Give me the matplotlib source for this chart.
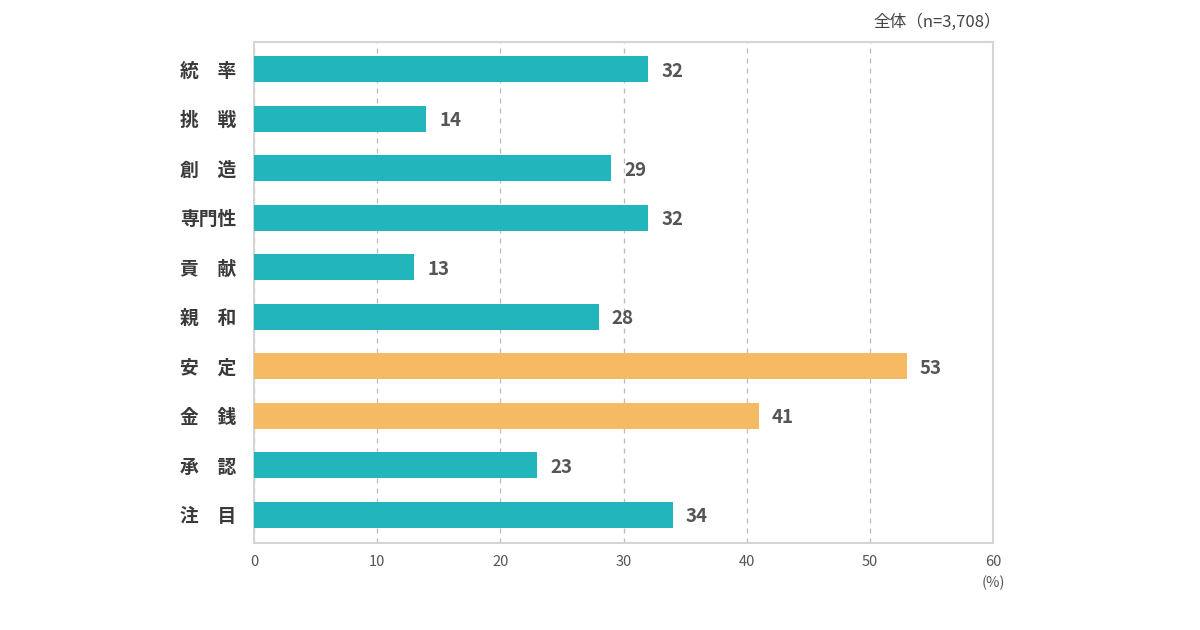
import matplotlib
matplotlib.use("Agg")
import matplotlib.pyplot as plt

plt.rcParams['font.family'] = ['Noto Sans CJK JP', 'DejaVu Sans']

categories = ["統　率", "挑　戦", "創　造", "専門性", "貢　献", "親　和", "安　定", "金　銭", "承　認", "注　目"]
values = [32, 14, 29, 32, 13, 28, 53, 41, 23, 34]
highlight = [False, False, False, False, False, False, True, True, False, False]
xticks = [0, 10, 20, 30, 40, 50, 60]

teal = "#22B5BC"
orange = "#F5BA62"

fig = plt.figure(figsize=(12, 6.3), dpi=100)
ax = fig.add_axes([254/1200, 1 - 543/630, (993-254)/1200, (543-42)/630])

ypos = list(range(len(categories)))
colors = [orange if h else teal for h in highlight]
ax.barh(ypos, values, height=0.53, color=colors, zorder=3)

for y, v in zip(ypos, values):
    ax.text(v + 1.05, y + 0.04, str(v), va="center", ha="left",
            fontsize=13.5, fontweight="bold", color="#555555")

ax.set_xlim(0, 60)
ax.set_ylim(len(categories) - 0.43, -0.55)
ax.set_yticks(ypos)
ax.set_yticklabels(categories, fontsize=13.5, fontweight="bold", color="#3a3a3a")
ax.set_xticks(xticks)
ax.set_xticklabels([str(t) for t in xticks], fontsize=10.5, color="#555555")
ax.tick_params(axis="y", length=0, pad=13)
ax.tick_params(axis="x", length=0, pad=9)

ax.grid(axis="x", linestyle=(0, (4, 4)), color="#bbbbbb", linewidth=0.9, zorder=0)
for s in ax.spines.values():
    s.set_color("#d5d5d5")
    s.set_linewidth(1.5)

fig.text(993/1200, 1 - 583/630, "(%)", ha="center", va="center", fontsize=10.5, color="#555555")
fig.text(1001/1200, 1 - 22/630, "全体（n=3,708）", ha="right", va="center", fontsize=12, color="#444444")

fig.savefig("out.png", dpi=100, facecolor="white")
